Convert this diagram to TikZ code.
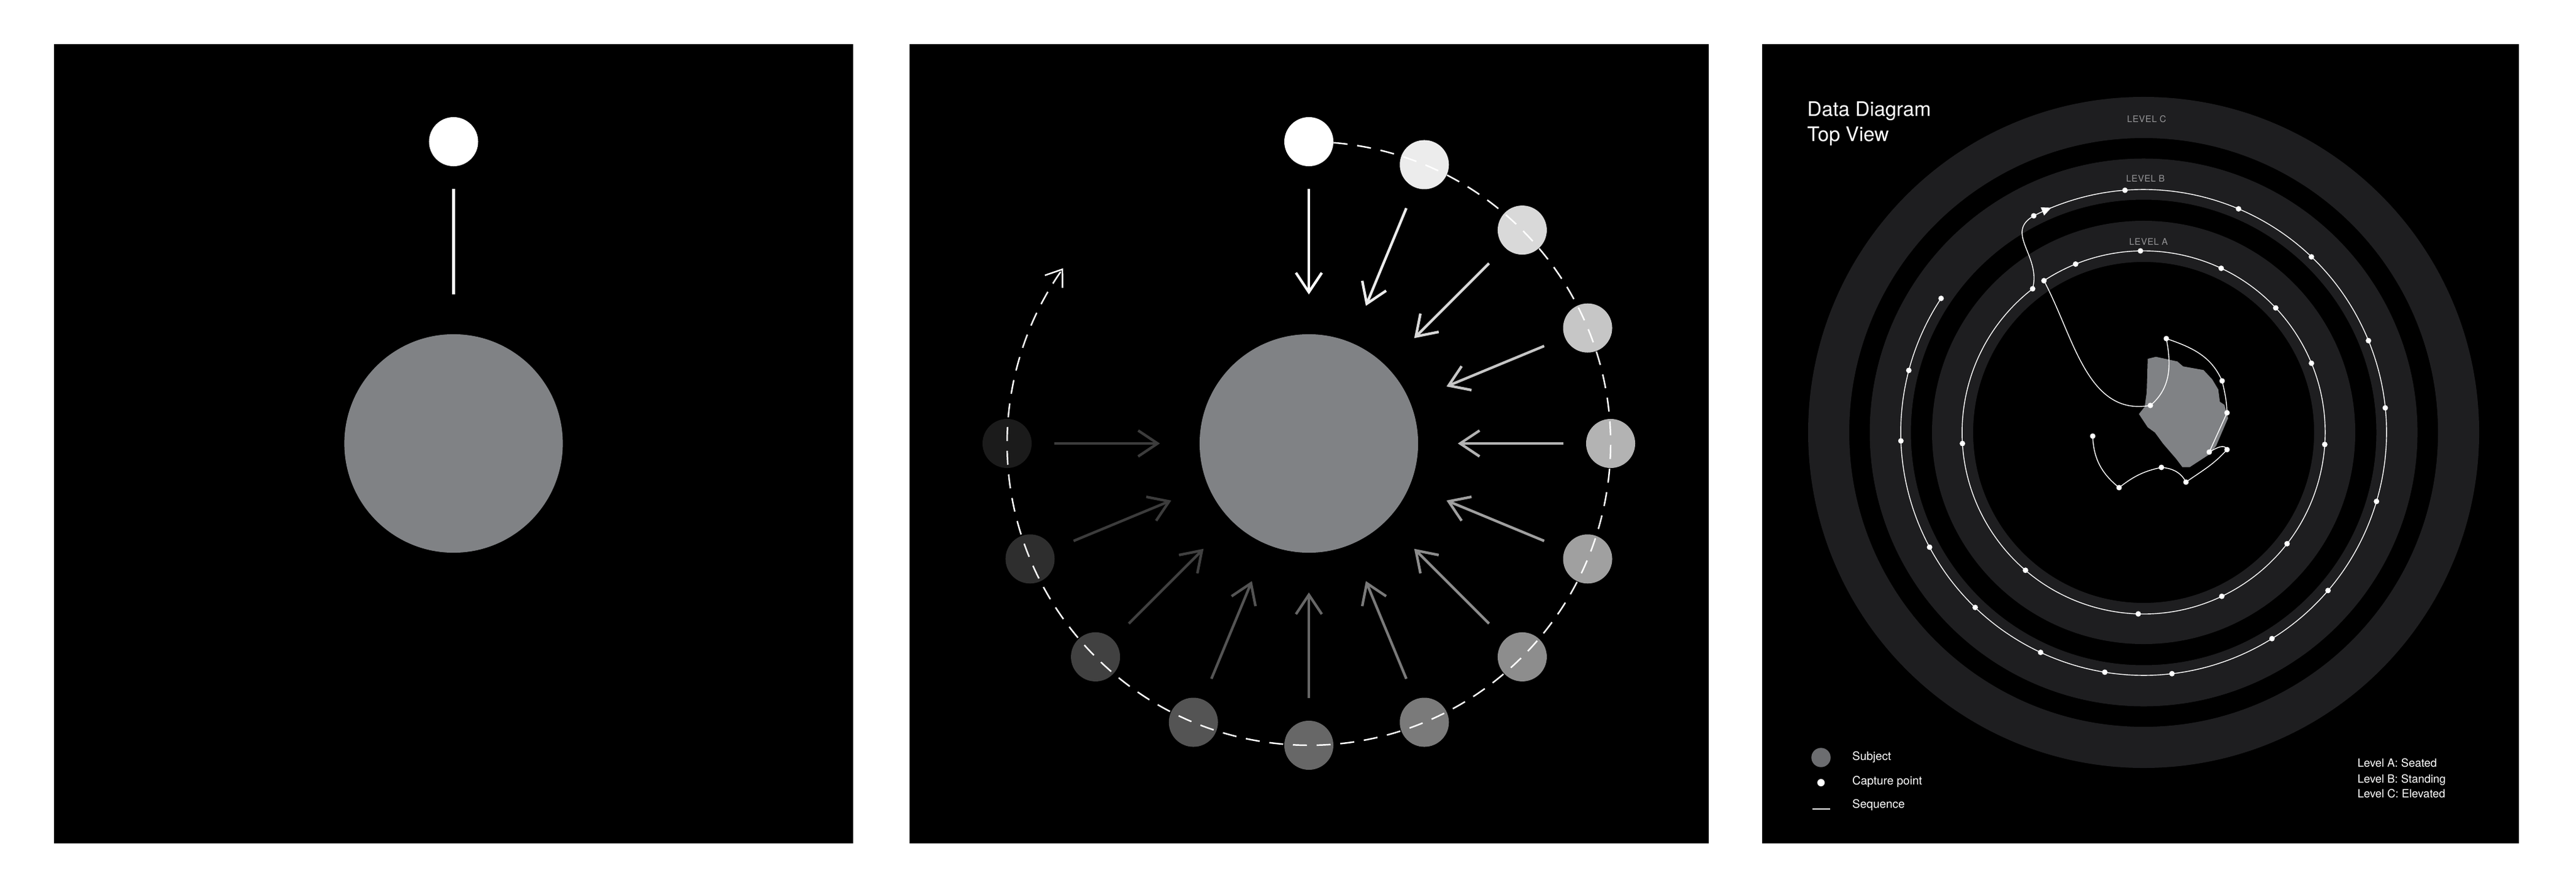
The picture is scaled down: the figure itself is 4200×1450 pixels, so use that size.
\documentclass[tikz,border=0pt]{standalone}
\usepackage{fontspec}
\setmainfont{TeX Gyre Heros}
\newfontfamily\levelfont[LetterSpace=4]{TeX Gyre Heros}
\usepackage{xcolor}
\usepackage{tikz}
\usetikzlibrary{arrows.meta,decorations.markings,calc}

\definecolor{subjgray}{RGB}{128,130,133}
\definecolor{keygray}{RGB}{108,109,112}
\definecolor{ringgray}{RGB}{30,30,32}
\definecolor{labelgray}{RGB}{150,150,152}

\tikzset{
	subject/.style={circle,fill=subjgray,inner sep=0pt,minimum size=3.56cm},
	camera/.style={circle,fill=white,inner sep=0pt,minimum size=0.8cm},
	shot/.style={line width=1.2pt,shorten <=0.36cm,shorten >=0.64cm},
	orbit/.style={white,line width=0.7pt,dash pattern=on 6.5pt off 4.5pt},
	seq/.style={white,line width=0.4pt},
	band/.style={ringgray,line width=0.67cm},
	levellabel/.style={labelgray,font=\levelfont\fontsize{4.2}{5}\selectfont,anchor=base,inner sep=0pt},
	keytext/.style={white,font=\fontsize{5.4}{6.5}\selectfont,anchor=base west,inner sep=0pt},
	titletext/.style={white,font=\fontsize{9.3}{11.7}\selectfont,anchor=base west,inner sep=0pt}
}

\begin{document}
\begin{tikzpicture}[x=0.01cm,y=0.01cm]
	\useasboundingbox (0,0) rectangle (4200,1450);
	\fill[white] (0,0) rectangle (4200,1450);
	\fill[black] (88,75) rectangle (1391,1378);
	\fill[black] (1483,75) rectangle (2786,1378);
	\fill[black] (2873,75) rectangle (4107,1378);

	\node[subject] (subj1) at (739.5,727) {};
	\node[camera] (cam1) at (739.5,1219) {};
	\draw[shot,white] (cam1) -- (subj1);

	\coordinate (c2) at (2134,727);
	\node[subject] (subj2) at (c2) {};
	\foreach \k in {0,...,12}{
		\pgfmathsetmacro\ang{90-22.5*\k}
		\pgfmathtruncatemacro\g{255-19*\k}
		\pgfmathtruncatemacro\ga{max(\g,60)}
		\definecolor{dotshade}{RGB}{\g,\g,\g}
		\definecolor{arrowshade}{RGB}{\ga,\ga,\ga}
		\node[camera,fill=dotshade] (pos\k) at ($(c2)+(\ang:492)$) {};
		\draw[shot,arrowshade,-{Straight Barb[length=9pt,width=12pt]}] (pos\k) -- (subj2);
	}
	\coordinate (orbitstart) at ($(c2)+(85.3:492)$);
	\draw[orbit,-{Straight Barb[length=7pt,width=10pt]}] (orbitstart) arc[start angle=85.3,end angle=-215.5,radius=492];

	\coordinate (c3) at (3495,745);
	\draw[band] (c3) circle[radius=311.5];
	\draw[band] (c3) circle[radius=413];
	\draw[band] (c3) circle[radius=513.5];
	\fill[subjgray] (3501.7,865) -- (3515,868.3) -- (3550,860.7) -- (3559.3,852.7) -- (3592.7,846.7)
		-- (3606.7,831.7) -- (3616.7,815) -- (3619.3,795) -- (3626.7,790) -- (3632.7,768.3)
		-- (3613.3,723.3) -- (3603.3,710) -- (3570,688.3) -- (3558.3,688.3) -- (3548.3,701.7)
		-- (3526.7,726.7) -- (3513.3,745) -- (3501.7,753.3) -- (3487.3,775) -- (3496.7,786.7)
		-- (3500,810) -- cycle;
	\node[levellabel] (lvlc) at (3500,1251) {LEVEL C};
	\node[levellabel] (lvlb) at (3498,1154) {LEVEL B};
	\node[levellabel] (lvla) at (3503,1051) {LEVEL A};

	\coordinate (p1) at (3412,739);
	\coordinate (p2) at (3455,655);
	\coordinate (p3) at (3524,688);
	\coordinate (p4) at (3564,664);
	\coordinate (p5) at (3631,717);
	\coordinate (p6) at (3602,713);
	\coordinate (p7) at (3631,777);
	\coordinate (p8) at (3623,829);
	\coordinate (p9) at (3532,898);
	\coordinate (p10) at (3506,789);
	\coordinate (a0) at ($(c3)+(123.3:296)$);
	\coordinate (b0) at ($(c3)+(116.9:396)$);
	\draw[seq] (p1) to[out=272,in=141] (p2) to[out=38,in=192] (p3) to[out=-5,in=117] (p4)
		to[out=35,in=228] (p5) to[out=110,in=30] (p6) -- (p7) to[out=92,in=-77] (p8)
		to[out=114,in=-19] (p9) to[out=-79,in=40] (p10) to[out=190,in=-62] (a0)
		arc[start angle=123.3,end angle=-232.3,radius=296] to[out=75,in=210,looseness=1.2] (b0);
	\draw[seq,postaction={decorate},decoration={markings,mark=at position 9pt with {\arrow{Triangle[length=4.5pt,width=4pt]}}}]
		(b0) arc[start angle=116.9,end angle=-213.5,radius=396];
	\foreach \p in {p1,p2,p3,p4,p5,p6,p7,p8,p9,p10}
		\fill[white] (\p) circle[radius=4.5];
	\foreach \a in {123.3,112,91,64.7,43.3,22.4,-3.8,-37.8,-64.5,-91.7,-130.6,-176.5,127.7}
		\fill[white] ($(c3)+(\a:296)$) circle[radius=4.5];
	\foreach \a in {116.9,94.4,67,46.3,22.2,5.8,-16.5,-40.6,-58.1,-83.3,-99.2,-115.1,-133.9,-151.8,-178,165.2,146.5}
		\fill[white] ($(c3)+(\a:396)$) circle[radius=4.5];

	\node[titletext] (title) at (2946,1261) {Data Diagram};
	\node[titletext] (view) at (2946,1220) {Top View};

	\node[circle,fill=keygray,inner sep=0pt,minimum size=0.314cm] (keysubj) at (2969,215) {};
	\node[keytext] (keysubjtext) at (3019.4,211) {Subject};
	\node[circle,fill=white,inner sep=0pt,minimum size=0.12cm] (keypoint) at (2969,174) {};
	\node[keytext] (keypointtext) at (3019.4,170.7) {Capture point};
	\coordinate (keyseqa) at (2955,131);
	\coordinate (keyseqb) at (2984,131);
	\draw[seq] (keyseqa) -- (keyseqb);
	\node[keytext] (keyseqtext) at (3019.4,132.3) {Sequence};

	\node[keytext,font=\fontsize{5.25}{6.5}\selectfont] (levela) at (3843,199.3) {Level A: Seated};
	\node[keytext,font=\fontsize{5.25}{6.5}\selectfont] (levelb) at (3843,174) {Level B: Standing};
	\node[keytext,font=\fontsize{5.25}{6.5}\selectfont] (levelc) at (3843,149.3) {Level C: Elevated};
\end{tikzpicture}
\end{document}
